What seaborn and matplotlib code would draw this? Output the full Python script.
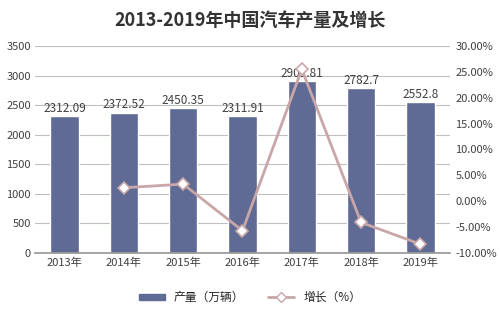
import seaborn as sns
import pandas as pd
import matplotlib.pyplot as plt
from matplotlib.lines import Line2D
from matplotlib.patches import Patch

years = ["2013年", "2014年", "2015年", "2016年", "2017年", "2018年", "2019年"]
output = [2312.09, 2372.52, 2450.35, 2311.91, 2901.81, 2782.7, 2552.8]
growth_years = ["2014年", "2015年", "2016年", "2017年", "2018年", "2019年"]
growth = [2.6, 3.3, -5.7, 25.5, -4.1, -8.3]

bar_color = "#5f6b94"
line_color = "#c9a6a8"

sns.set_theme(style="white")
plt.rcParams['font.family'] = ['Noto Sans CJK SC', 'DejaVu Sans']

df = pd.DataFrame({"year": years, "output": output})
gdf = pd.DataFrame({"year": growth_years, "growth": growth})
gdf["pos"] = [years.index(y) for y in growth_years]

fig = plt.figure(figsize=(5, 3.15), dpi=100)
ax = fig.add_axes([0.07, 0.197, 0.83, 0.657])
ax.set_axisbelow(True)
ax.yaxis.grid(True, color="#bfbfbf", linewidth=0.8)

sns.barplot(data=df, x="year", y="output", color=bar_color, width=0.48,
            saturation=1, ax=ax, zorder=2)
for i, v in enumerate(output):
    ax.text(i, v + 25, f"{v:g}", ha="center", va="bottom", fontsize=8.5,
            color="#404040")

ax.set_ylim(0, 3500)
ax.set_yticks(range(0, 3501, 500))
ax.set_xlim(-0.5, 6.5)
ax.set_xlabel("")
ax.set_ylabel("")
ax.tick_params(axis="both", labelsize=8, colors="#404040", length=0)
ax.tick_params(axis="y", pad=3)
ax.set_xticks([x + 0.5 for x in range(-1, 7)], minor=True)
ax.tick_params(axis="x", which="minor", length=4, color="#999999")
for s in ["top", "right", "left"]:
    ax.spines[s].set_visible(False)
ax.spines["bottom"].set_color("#999999")

ax2 = ax.twinx()
sns.lineplot(data=gdf, x="pos", y="growth", color=line_color, linewidth=2,
             marker="D", markersize=6, markerfacecolor="white",
             markeredgecolor=line_color, markeredgewidth=1.2, ax=ax2, zorder=3)
ax2.set_ylim(-10, 30)
ax2.set_yticks(range(-10, 31, 5))
ax2.set_yticklabels([f"{t:.2f}%" for t in range(-10, 31, 5)])
ax2.set_ylabel("")
ax2.tick_params(axis="y", labelsize=8, colors="#404040", length=0, pad=4)
for s in ["top", "right", "left", "bottom"]:
    ax2.spines[s].set_visible(False)
ax2.set_xlim(-0.5, 6.5)

fig.text(0.5, 0.935, "2013-2019年中国汽车产量及增长", ha="center", va="center",
         fontsize=13, fontweight="bold", color="#333333")

handles = [Patch(color=bar_color, label="产量（万辆）"),
           Line2D([0], [0], color=line_color, linewidth=2, marker="D",
                  markersize=5, markerfacecolor="white",
                  markeredgecolor=line_color, label="增长（%）")]
fig.legend(handles=handles, loc="center", bbox_to_anchor=(0.5, 0.055), ncol=2,
           frameon=False, fontsize=8.5, handlelength=2.2, columnspacing=2,
           handleheight=0.5)

fig.savefig("out.png", dpi=100)
